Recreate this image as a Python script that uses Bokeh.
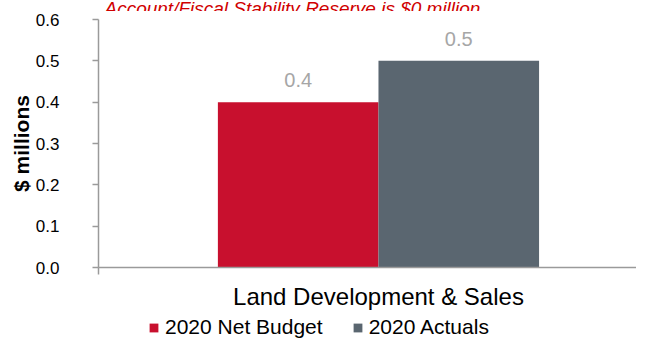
from bokeh.plotting import figure
from bokeh.layouts import column
from bokeh.models import (ColumnDataSource, Range1d, FixedTicker, LabelSet, Label,
                          Legend, LegendItem, LinearAxis, NumeralTickFormatter)
from bokeh.core.properties import value
from bokeh.transform import dodge
from bokeh.embed import file_html
from bokeh.resources import INLINE

# ---- data ----
categories = ["Land Development & Sales"]
net_budget_2020 = [0.4]
actuals_2020 = [0.5]
series_names = ["2020 Net Budget", "2020 Actuals"]
y_ticks = [0.0, 0.1, 0.2, 0.3, 0.4, 0.5, 0.6]
title_text = "Account/Fiscal Stability Reserve is $0 million"
y_label = "$ millions"

RED = "#C8102E"
GRAY = "#5A6670"
AXIS = "#9a9a9a"
FONT = "Liberation Sans"


def bare(fig):
    fig.outline_line_color = None
    fig.grid.visible = False
    fig.xaxis.visible = False
    fig.yaxis.visible = False


src = ColumnDataSource(dict(
    x=list(range(len(categories))),
    budget=net_budget_2020,
    actuals=actuals_2020,
    budget_txt=[f"{v:.1f}" for v in net_budget_2020],
    actuals_txt=[f"{v:.1f}" for v in actuals_2020],
))

# ---- title strip (top of the title is cut, as in the reference) ----
p0 = figure(width=636, height=11, output_backend="svg", toolbar_location=None,
            x_range=Range1d(0, 1), y_range=Range1d(0, 1),
            min_border_left=98, min_border_right=0, min_border_top=0, min_border_bottom=0)
bare(p0)
p0.add_layout(Label(x=6, y=4.5, x_units="screen", y_units="screen", text=title_text,
                    text_color="#D00000", text_font=FONT, text_font_style="italic",
                    text_font_size="19px", text_baseline="alphabetic"))

# ---- main chart ----
x_start, x_end = -0.5204, 0.4796
p = figure(width=636, height=301, output_backend="svg", toolbar_location=None,
           x_range=Range1d(x_start, x_end), y_range=Range1d(0, 0.6),
           min_border_left=98, min_border_right=0, min_border_top=8,
           min_border_bottom=42)
bare(p)

bw = 0.2985
r1 = p.vbar(x=dodge("x", -bw / 2, range=p.x_range), top="budget", width=bw,
            source=src, fill_color=RED, line_color=None)
r2 = p.vbar(x=dodge("x", bw / 2, range=p.x_range), top="actuals", width=bw,
            source=src, fill_color=GRAY, line_color=None)

for col, txt, off in (("budget", "budget_txt", -bw / 2), ("actuals", "actuals_txt", bw / 2)):
    p.add_layout(LabelSet(x=dodge("x", off, range=p.x_range), y=col, text=txt, source=src,
                          y_offset=15, text_align="center", text_baseline="alphabetic",
                          text_color="#A6A6A6", text_font_size="20px",
                          text_font=value(FONT)))

yax = LinearAxis(ticker=FixedTicker(ticks=y_ticks))
yax.formatter = NumeralTickFormatter(format="0.0")
yax.axis_line_color = AXIS
yax.axis_line_width = 1.5
yax.major_tick_line_color = AXIS
yax.major_tick_line_width = 1.5
yax.major_tick_out = 6
yax.major_tick_in = 0
yax.minor_tick_line_color = None
yax.major_label_standoff = 33
yax.major_label_text_font = FONT
yax.major_label_text_font_size = "17px"
yax.major_label_text_color = "#000000"
yax.axis_label = y_label
yax.axis_label_text_font = FONT
yax.axis_label_text_font_size = "21px"
yax.axis_label_text_font_style = "bold"
yax.axis_label_text_color = "#000000"
yax.axis_label_standoff = 0
p.add_layout(yax, "left")

xax = LinearAxis(ticker=FixedTicker(ticks=[0], minor_ticks=[x_start]))
xax.major_label_overrides = {0: categories[0]}
xax.axis_line_color = AXIS
xax.axis_line_width = 1.5
xax.major_tick_line_color = None
xax.minor_tick_line_color = AXIS
xax.minor_tick_line_width = 1.5
xax.minor_tick_out = 7
xax.minor_tick_in = 0
xax.major_tick_out = 0
xax.major_tick_in = 0
xax.major_label_standoff = 8
xax.major_label_text_font = FONT
xax.major_label_text_font_size = "24px"
xax.major_label_text_color = "#000000"
p.add_layout(xax, "below")

# ---- legend strip below the chart (frames are aligned by the column layout) ----
p2 = figure(width=636, height=28, output_backend="svg", toolbar_location=None,
            x_range=Range1d(-1, 1), y_range=Range1d(10, 11),
            min_border_left=98, min_border_right=0, min_border_top=0, min_border_bottom=0)
bare(p2)
lr1 = p2.vbar(x="x", top="budget", width=0.1, source=src, fill_color=RED, line_color=None)
lr2 = p2.vbar(x="x", top="actuals", width=0.1, source=src, fill_color=GRAY, line_color=None)
legend = Legend(items=[LegendItem(label=series_names[0], renderers=[lr1]),
                       LegendItem(label=series_names[1], renderers=[lr2])],
                orientation="horizontal", location=(50, 1),
                label_text_font=FONT, label_text_font_size="21px",
                label_text_color="#000000",
                glyph_width=11, glyph_height=11, label_standoff=6, spacing=29,
                padding=0, margin=0, border_line_color=None,
                background_fill_alpha=0, label_height=20)
p2.add_layout(legend, "center")

layout = column(p0, p, p2, spacing=0)
open("out.html", "w").write(file_html(layout, INLINE))
